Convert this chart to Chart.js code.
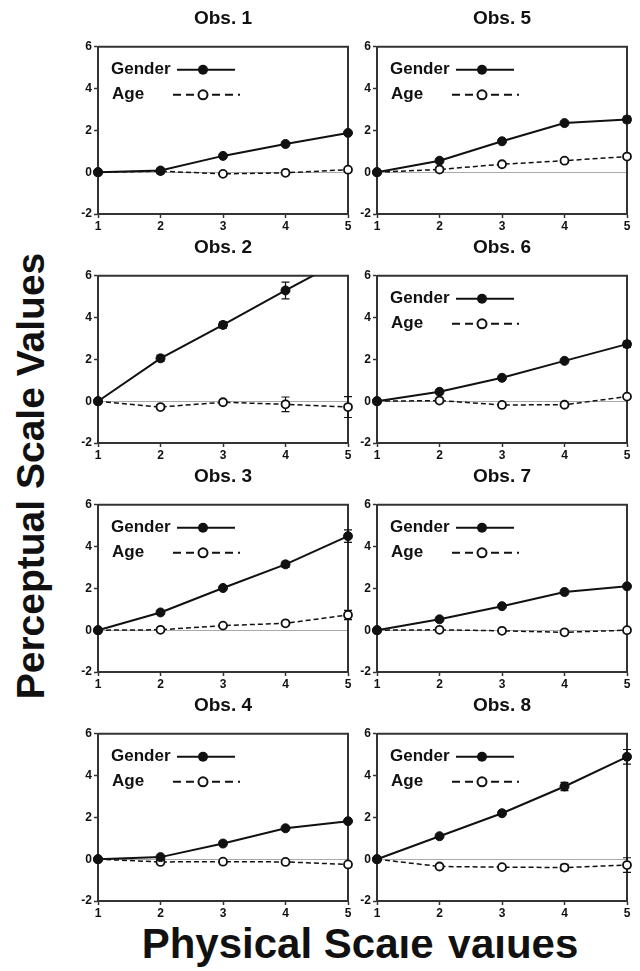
<!DOCTYPE html>
<html>
<head>
<meta charset="utf-8">
<script src="https://cdn.jsdelivr.net/npm/chart.js@4"></script>
<style>
  body { margin: 0; background: #fff; }
  #wrap { position: relative; width: 640px; height: 971px; overflow: hidden; background: #fff; font-family: "Liberation Sans", Arial, sans-serif; }
  canvas { position: absolute; }
  .lbl { position: absolute; font-weight: bold; color: #111; white-space: nowrap; line-height: 1; }
</style>
</head>
<body>
<div id="wrap">
  <div class="lbl" id="ylab" style="font-size:39px; left:30px; top:476px; transform: translate(-50%,-50%) rotate(-90deg);">Perceptual Scale Values</div>
  <div class="lbl" id="xlab" style="font-size:42px; left:360px; top:923px; transform: translateX(-50%);">Physical Scale Values</div>
  <div style="position:absolute; left:396px; top:921px; width:244px; height:15px; background:#fff;"></div>
</div>
<script>
// physical scale steps and y ticks
const xValues = [1, 2, 3, 4, 5];
const yTicks = [-2, 0, 2, 4, 6];
const titles = ['Obs. 1', 'Obs. 2', 'Obs. 3', 'Obs. 4', 'Obs. 5', 'Obs. 6', 'Obs. 7', 'Obs. 8'];

// perceptual scale values
const obs1Gender = [0, 0.08, 0.78, 1.35, 1.88];
const obs1Age    = [0, 0.05, -0.08, -0.03, 0.12];
const obs2Gender = [0, 2.05, 3.65, 5.3, 6.9];
const obs2Age    = [0, -0.28, -0.05, -0.15, -0.28];
const obs3Gender = [0, 0.85, 2.02, 3.15, 4.5];
const obs3Age    = [0, 0.02, 0.22, 0.33, 0.73];
const obs4Gender = [0, 0.1, 0.75, 1.48, 1.82];
const obs4Age    = [0, -0.13, -0.12, -0.13, -0.25];
const obs5Gender = [0, 0.55, 1.48, 2.35, 2.52];
const obs5Age    = [0, 0.13, 0.38, 0.55, 0.75];
const obs6Gender = [0, 0.45, 1.12, 1.93, 2.73];
const obs6Age    = [0, 0.03, -0.18, -0.17, 0.22];
const obs7Gender = [0, 0.52, 1.15, 1.83, 2.1];
const obs7Age    = [0, 0.02, -0.03, -0.1, 0];
const obs8Gender = [0, 1.1, 2.2, 3.48, 4.9];
const obs8Age    = [0, -0.35, -0.38, -0.4, -0.28];

// error bar half-lengths
const none = [0, 0, 0, 0, 0];
const obs2GenderErr = [0, 0.15, 0.15, 0.4, 0];
const obs2AgeErr    = [0, 0.1, 0.1, 0.35, 0.5];
const obs3GenderErr = [0, 0.05, 0.08, 0.15, 0.3];
const obs3AgeErr    = [0, 0, 0, 0.05, 0.22];
const obs5GenderErr = [0, 0, 0, 0.05, 0.15];
const obs5AgeErr    = [0, 0, 0, 0, 0.1];
const obs6GenderErr = [0, 0, 0, 0, 0.15];
const obs6AgeErr    = [0, 0, 0, 0, 0.08];
const obs8GenderErr = [0, 0, 0, 0.2, 0.35];
const obs8AgeErr    = [0, 0, 0, 0.15, 0.35];

const genderSeries = [obs1Gender, obs2Gender, obs3Gender, obs4Gender, obs5Gender, obs6Gender, obs7Gender, obs8Gender];
const ageSeries = [obs1Age, obs2Age, obs3Age, obs4Age, obs5Age, obs6Age, obs7Age, obs8Age];
const genderErrs = [none, obs2GenderErr, obs3GenderErr, none, obs5GenderErr, obs6GenderErr, none, obs8GenderErr];
const ageErrs = [none, obs2AgeErr, obs3AgeErr, none, obs5AgeErr, obs6AgeErr, none, obs8AgeErr];
const showLegend = [true, false, true, true, true, true, true, true];

const FONT = '"Liberation Sans", Arial, sans-serif';
const INK = '#111';
const AXIS = '#333';

// box round the plot (top and right sides)
const framePlugin = {
  id: 'frame',
  beforeDatasetsDraw(chart) {
    const a = chart.chartArea, c = chart.ctx;
    c.save();
    c.strokeStyle = AXIS;
    c.lineWidth = 2;
    c.beginPath();
    c.moveTo(a.left, a.top);
    c.lineTo(a.right, a.top);
    c.lineTo(a.right, a.bottom);
    c.stroke();
    c.restore();
  }
};

// vertical error bars with caps
const errorPlugin = {
  id: 'errbars',
  beforeDatasetsDraw(chart) {
    const c = chart.ctx, xs = chart.scales.x, ys = chart.scales.y;
    c.save();
    c.strokeStyle = INK;
    c.lineWidth = 1.2;
    chart.data.datasets.forEach(ds => {
      (ds.errors || []).forEach((e, i) => {
        if (!e) return;
        const px = xs.getPixelForValue(ds.data[i].x);
        const top = ys.getPixelForValue(ds.data[i].y + e);
        const bot = ys.getPixelForValue(ds.data[i].y - e);
        c.beginPath();
        c.moveTo(px, top); c.lineTo(px, bot);
        c.moveTo(px - 4, top); c.lineTo(px + 4, top);
        c.moveTo(px - 4, bot); c.lineTo(px + 4, bot);
        c.stroke();
      });
    });
    c.restore();
  }
};

// "Gender ——●——" / "Age - - o - - -" key inside the plot
const keyPlugin = {
  id: 'key',
  afterDraw(chart, args, opts) {
    if (!opts.show) return;
    const a = chart.chartArea, c = chart.ctx;
    const l = a.left, t = a.top;
    c.save();
    c.fillStyle = INK;
    c.font = 'bold 17px ' + FONT;
    c.textBaseline = 'middle';
    c.fillText('Gender', l + 13, t + 23);
    c.fillText('Age', l + 14, t + 48);
    c.strokeStyle = INK;
    c.lineWidth = 2;
    c.beginPath();
    c.moveTo(l + 79, t + 23); c.lineTo(l + 137, t + 23);
    c.stroke();
    c.beginPath();
    c.arc(l + 105, t + 23, 5, 0, Math.PI * 2);
    c.fill();
    c.setLineDash([8, 5]);
    c.beginPath();
    c.moveTo(l + 75, t + 48); c.lineTo(l + 142, t + 48);
    c.stroke();
    c.setLineDash([]);
    c.fillStyle = '#fff';
    c.beginPath();
    c.arc(l + 105, t + 48, 4.5, 0, Math.PI * 2);
    c.fill();
    c.stroke();
    c.restore();
  }
};

const wrap = document.getElementById('wrap');

titles.forEach((title, k) => {
  const col = k < 4 ? 0 : 1;
  const row = k % 4;
  const cv = document.createElement('canvas');
  cv.width = 294;
  cv.height = 234;
  cv.style.left = (col === 0 ? 60 : 339) + 'px';
  cv.style.top = (row * 229) + 'px';
  wrap.appendChild(cv);

  const pts = arr => arr.map((v, i) => ({ x: xValues[i], y: v }));

  new Chart(cv.getContext('2d'), {
    type: 'line',
    plugins: [framePlugin, errorPlugin, keyPlugin],
    data: {
      datasets: [
        {
          label: 'Gender',
          data: pts(genderSeries[k]),
          errors: genderErrs[k],
          borderColor: INK,
          borderWidth: 2,
          pointRadius: 4.5,
          pointBackgroundColor: INK,
          pointBorderColor: INK,
          pointBorderWidth: 1,
          tension: 0,
          clip: { left: 8, right: 8, top: 0, bottom: 8 }
        },
        {
          label: 'Age',
          data: pts(ageSeries[k]),
          errors: ageErrs[k],
          borderColor: INK,
          borderWidth: 1.5,
          borderDash: [5, 3],
          pointRadius: 4,
          pointBackgroundColor: '#fff',
          pointBorderColor: INK,
          pointBorderWidth: 1.8,
          tension: 0,
          clip: { left: 8, right: 8, top: 0, bottom: 8 }
        }
      ]
    },
    options: {
      responsive: false,
      animation: false,
      devicePixelRatio: 1,
      layout: { padding: { top: 0, right: 6, bottom: 0, left: 0 } },
      plugins: {
        legend: { display: false },
        tooltip: { enabled: false },
        title: {
          display: true,
          text: title,
          fullSize: false,
          color: INK,
          font: { family: FONT, size: 19, weight: 'bold' },
          padding: { top: 7, bottom: 17 }
        },
        key: { show: showLegend[k] }
      },
      scales: {
        x: {
          type: 'linear',
          min: 1,
          max: 5,
          ticks: { stepSize: 1, color: INK, padding: 1, font: { family: FONT, size: 12, weight: 'bold' } },
          grid: { drawOnChartArea: false, tickLength: 4, tickColor: AXIS, tickWidth: 1.5 },
          border: { display: true, color: AXIS, width: 2 },
          afterFit: s => { s.height = 20; }
        },
        y: {
          min: -2,
          max: 6,
          afterBuildTicks: s => { s.ticks = yTicks.map(v => ({ value: v })); },
          ticks: { color: INK, padding: 2, font: { family: FONT, size: 12, weight: 'bold' } },
          grid: {
            color: ctx => (ctx.tick && ctx.tick.value === 0 ? '#aaa' : 'rgba(0,0,0,0)'),
            lineWidth: 1,
            tickLength: 4,
            tickColor: AXIS,
            tickWidth: 1.5
          },
          border: { display: true, color: AXIS, width: 2 },
          afterFit: s => { s.width = 38; }
        }
      }
    }
  });
});
</script>
</body>
</html>
